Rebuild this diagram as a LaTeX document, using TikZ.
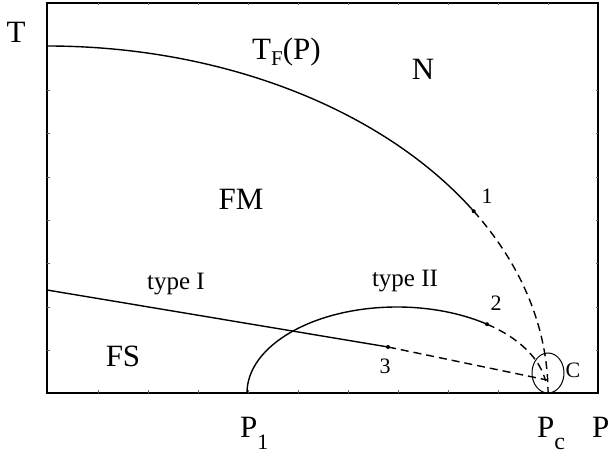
\documentclass[tikz,border=0pt]{standalone}
\usepackage{fontspec}
\setmainfont{Liberation Serif}
\newcommand\bigfont{\fontsize{31}{36}\selectfont}
\newcommand\midfont{\fontsize{25}{30}\selectfont}
\newcommand\smallfont{\fontsize{22}{26}\selectfont}
\begin{document}
\begin{tikzpicture}[x=1pt,y=1pt,
  curve/.style={line width=1.4pt},
  dashcurve/.style={line width=1.4pt, dash pattern=on 8pt off 5pt},
  frame/.style={line width=1.3pt},
  tick/.style={line width=0.4pt, black!60},
  big/.style={inner sep=0pt, font=\bigfont},
  mid/.style={inner sep=0pt, font=\midfont},
  small/.style={inner sep=0pt, font=\smallfont}]
\useasboundingbox (0,0) rectangle (611,458);
% frame
\draw[frame] (47,65) rectangle (598,455);
% ticks
\foreach \y in {90,133,177,220,263,307,350} {
  \draw[tick] (47,458-\y) -- ++(2.5,0);
  \draw[tick] (598,458-\y) -- ++(-2.5,0);
}
\foreach \x in {98,148,...,548} {
  \draw[tick] (\x,455) -- ++(0,-2.5);
  \draw[tick] (\x,65) -- ++(0,2.5);
}
% T_F(P) curve
\coordinate (tfstart) at (47,412);
\draw[curve] (tfstart) arc[start angle=90, end angle=31.6, x radius=501, y radius=347] coordinate (p1);
\draw[dashcurve] (p1) arc[start angle=31.6, end angle=0, x radius=501, y radius=347] coordinate (pcpt);
% type II curve
\coordinate (P1pt) at (247,65);
\draw[curve] (P1pt) arc[start angle=180, end angle=53.13, x radius=150, y radius=86] coordinate (p2);
\draw[dashcurve] (p2) arc[start angle=53.13, end angle=8, x radius=150, y radius=86] coordinate (e2);
% type I line
\coordinate (t1start) at (47,168);
\coordinate (p3) at (388,111);
\coordinate (e3) at (547,78);
\draw[curve] (t1start) -- (p3);
\draw[dashcurve] (p3) -- (e3);
% dots
\foreach \p in {p1,p2,p3} \fill (\p) circle (2);
% critical region C
\draw[line width=1pt] (548,85) ellipse[x radius=16, y radius=20];
% labels
\node[big] (T) at (16,426) {T};
\node[big, anchor=base west] (TF) at (252,398) {T\lower6pt\hbox{\fontsize{21}{24}\selectfont F}(P)};
\node[big, anchor=base] (N) at (423,378) {N};
\node[big, anchor=base] (FM) at (241,248) {FM};
\node[big, anchor=base] (FS) at (123,91) {FS};
\node[mid, anchor=base] (typeI) at (176,168) {type I};
\node[mid, anchor=base] (typeII) at (405,171) {type II};
\node[small] (n1) at (487,262) {1};
\node[small] (n2) at (496,155) {2};
\node[small] (n3) at (385,92) {3};
\node[small] (C) at (573,88) {C};
\node[big, anchor=base west] (P1) at (240,20) {P\lower12pt\hbox{\fontsize{22}{26}\selectfont 1}};
\node[big, anchor=base west] (Pc) at (537,20) {P\lower12pt\hbox{\fontsize{24}{26}\selectfont c}};
\node[big, anchor=base west] (P) at (592,20) {P};
\end{tikzpicture}
\end{document}
